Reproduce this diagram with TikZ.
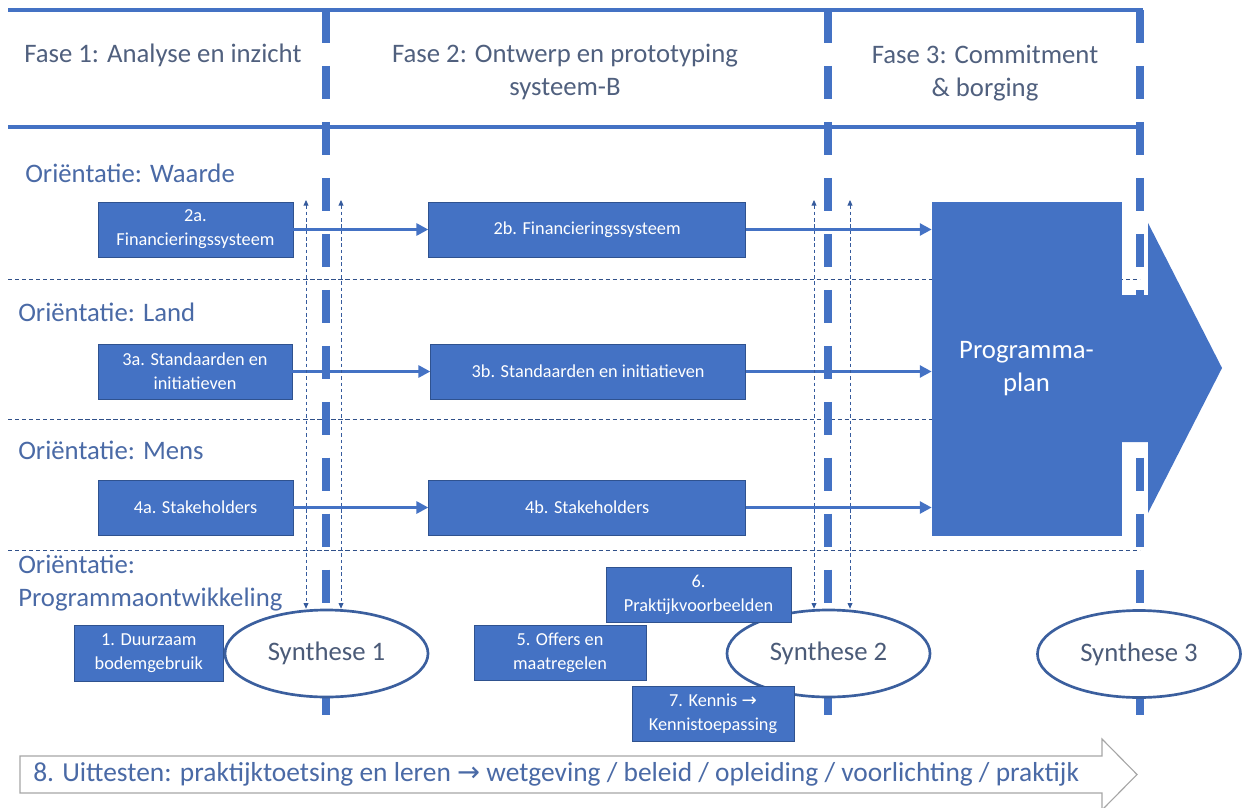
\documentclass[tikz,border=0pt]{standalone}
\usepackage{fontspec}
\setmainfont{Carlito}
\newfontfamily\arrowfont{DejaVu Sans}
\usetikzlibrary{positioning,shapes.geometric,arrows.meta}
\definecolor{officeblue}{HTML}{4472C4}
\definecolor{boxedge}{HTML}{2F528F}
\definecolor{headtext}{HTML}{50607E}
\definecolor{lanetext}{HTML}{4A6AA6}
\definecolor{syntext}{HTML}{4B5B78}
\definecolor{ringblue}{HTML}{3B5F9E}
\definecolor{arrowgray}{HTML}{A6A6A6}

\begin{document}
\begin{tikzpicture}[x=0.025cm, y=-0.025cm,
        phasetitle/.style={text=headtext, font=\fontsize{19}{24}\selectfont, align=center, inner sep=0pt},
        lane/.style={text=lanetext, font=\fontsize{19}{23}\selectfont, anchor=west, align=left, inner sep=0pt},
        task/.style={rectangle, draw=boxedge, fill=officeblue, text=white, font=\fontsize{13}{17}\selectfont, align=center, minimum height=1.375cm, inner sep=1pt},
        synth/.style={ellipse, draw=ringblue, line width=1.9pt, fill=white, text=syntext, font=\fontsize{19}{23}\selectfont, minimum width=5.075cm, minimum height=2.175cm, inner sep=0pt},
        flow/.style={-{Triangle[length=8.5pt, width=8.5pt]}, color=officeblue, line width=2.1pt},
        feedback/.style={<->, >={Triangle[length=4pt, width=3.5pt]}, color=officeblue!80!black, line width=0.6pt, dash pattern=on 2.5pt off 2pt},
        gate/.style={draw=officeblue, line width=5.7pt, dash pattern=on 23.5pt off 16.3pt},
        frameline/.style={draw=officeblue, line width=2.5pt},
        lanesep/.style={draw=officeblue!70!black, line width=0.6pt, dash pattern=on 3pt off 2pt},
    ]
    \useasboundingbox (0,0) rectangle (1246,807);

    \draw[frameline] (8,10) -- (1143,10);
    \draw[frameline] (8,127) -- (1143,127);
    \draw[lanesep] (8,279) -- (1140,279);
    \draw[lanesep] (8,419) -- (1140,419);
    \draw[lanesep] (8,550) -- (1140,550);
    \draw[gate] (326,10) -- (326,715);
    \draw[gate] (828,10) -- (828,715);
    \draw[gate] (1140,10) -- (1140,715);

    \node[phasetitle, anchor=west] (phaseOne) at (24,55) {Fase 1: Analyse en inzicht};
    \node[phasetitle] (phaseTwo) at (565,72) {Fase 2: Ontwerp en prototyping\\systeem-B};
    \node[phasetitle] (phaseThree) at (985,73) {Fase 3: Commitment\\\& borging};

    \node[lane] (laneValue) at (25,173) {Oriëntatie: Waarde};
    \node[lane] (laneLand) at (18,312) {Oriëntatie: Land};
    \node[lane] (lanePeople) at (18,450) {Oriëntatie: Mens};
    \node[lane] (laneProgram) at (18,583) {Oriëntatie:\\Programmaontwikkeling};

    \node[task, minimum width=4.875cm] (finA) at (195.5,229.5) {2a.\\Financieringssysteem};
    \node[task, minimum width=7.925cm] (finB) [right=3.375cm of finA] {2b. Financieringssysteem};
    \node[task, minimum width=4.85cm] (stdA) at (195,371.5) {3a. Standaarden en\\initiatieven};
    \node[task, minimum width=7.875cm] (stdB) [right=3.45cm of stdA] {3b. Standaarden en initiatieven};
    \node[task, minimum width=4.875cm] (stakeA) at (195.5,507.5) {4a. Stakeholders};
    \node[task, minimum width=7.925cm] (stakeB) [right=3.375cm of stakeA] {4b. Stakeholders};

    \node[task, minimum width=4.725cm, minimum height=8.325cm, draw=officeblue, font=\fontsize{19}{23}\selectfont] (programPlan) at (1026.5,368.5) {Programma-\\plan};
    \fill[officeblue] (1120,295) -- (1148,295) -- (1148,223) -- (1222,368) -- (1148,513) -- (1148,442) -- (1120,442) -- cycle;

    \path[flow] (finA) edge (finB);
    \path[flow] (finB.east) edge (finB.east -| programPlan.west);
    \path[flow] (stdA) edge (stdB);
    \path[flow] (stdB.east) edge (stdB.east -| programPlan.west);
    \path[flow] (stakeA) edge (stakeB);
    \path[flow] (stakeB.east) edge (stakeB.east -| programPlan.west);

    \node[synth] (synthOne) at (326.5,653.5) {Synthese 1};
    \node[synth] (synthTwo) at (828.5,653.5) {Synthese 2};
    \node[synth] (synthThree) at (1139,654) {Synthese 3};

    \coordinate (fbOneL) at (306,200);
    \coordinate (fbOneR) at (341,200);
    \coordinate (fbTwoL) at (814,200);
    \coordinate (fbTwoR) at (850,200);
    \path[feedback] (fbOneL) edge (fbOneL |- synthOne.north);
    \path[feedback] (fbOneR) edge (fbOneR |- synthOne.north);
    \path[feedback] (fbTwoL) edge (fbTwoL |- synthTwo.north);
    \path[feedback] (fbTwoR) edge (fbTwoR |- synthTwo.north);

    \node[task, minimum width=3.725cm, minimum height=1.4cm] (soilUse) [left=0cm of synthOne] {1. Duurzaam\\bodemgebruik};
    \node[task, minimum width=4.625cm] (practice) at (698.5,594.5) {6.\\Praktijkvoorbeelden};
    \node[task, minimum width=4.3cm] (sacrifice) at (560,652.5) {5. Offers en\\maatregelen};
    \node[task, minimum width=4.05cm] (knowledge) at (713,713.5) {7. Kennis {\arrowfont →}\\Kennistoepassing};

    \filldraw[draw=arrowgray, fill=white, line width=0.8pt] (20,756) -- (1102,756) -- (1102,739) -- (1137,774.5) -- (1102,810) -- (1102,793) -- (20,793) -- cycle;
    \node[lane, font=\fontsize{19.5}{23}\selectfont] (testing) at (33,774.5) {8. Uittesten: praktijktoetsing en leren {\arrowfont →} wetgeving / beleid / opleiding / voorlichting / praktijk};
\end{tikzpicture}
\end{document}
